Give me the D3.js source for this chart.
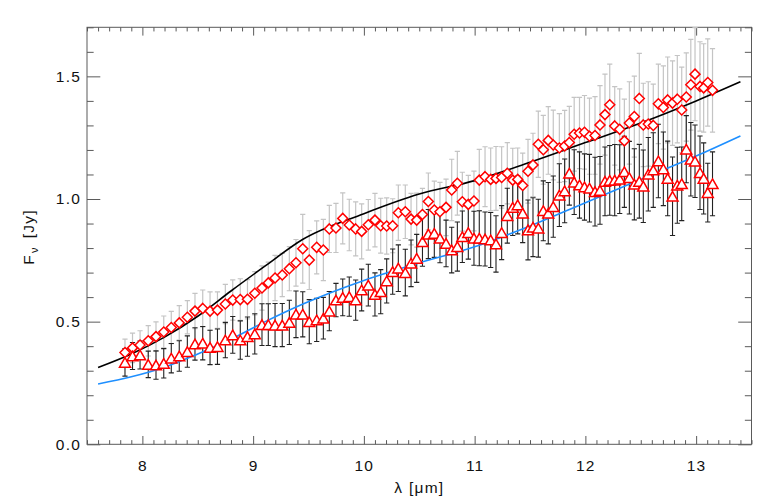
<!DOCTYPE html>
<html>
<head>
<meta charset="utf-8">
<script src="https://cdn.jsdelivr.net/npm/d3@7"></script>
<style>
  body { margin: 0; background: #fff; }
  text { font-family: "Liberation Sans", Arial, sans-serif; letter-spacing: 1.2px; }
</style>
</head>
<body>
<script>
// wavelength grid (micron), shared by both spectra
var wavelength = [
  7.843, 7.911, 7.979, 8.053, 8.123, 8.193, 8.261, 8.333, 8.406, 8.475,
  8.545, 8.611, 8.678, 8.749, 8.816, 8.884, 8.949, 9.015, 9.080, 9.137,
  9.198, 9.263, 9.327, 9.387, 9.448, 9.507, 9.574, 9.634, 9.688, 9.748,
  9.809, 9.868, 9.926, 9.980, 10.040, 10.100, 10.152, 10.206, 10.260, 10.311,
  10.374, 10.426, 10.477, 10.529, 10.582, 10.636, 10.687, 10.742, 10.793, 10.844,
  10.889, 10.943, 10.994, 11.042, 11.094, 11.145, 11.193, 11.244, 11.295, 11.344,
  11.389, 11.434, 11.482, 11.527, 11.575, 11.620, 11.665, 11.710, 11.765, 11.813,
  11.855, 11.899, 11.947, 11.992, 12.037, 12.087, 12.132, 12.177, 12.220, 12.265,
  12.310, 12.352, 12.397, 12.442, 12.487, 12.523, 12.568, 12.613, 12.659, 12.704,
  12.743, 12.787, 12.830, 12.870, 12.911, 12.952, 12.990, 13.035, 13.068, 13.105, 13.148
];

// diamonds (upper spectrum) and their errors, Jy
var fluxDiamond = [
  0.374, 0.393, 0.405, 0.422, 0.439, 0.458, 0.476, 0.495, 0.518, 0.543,
  0.554, 0.543, 0.547, 0.572, 0.588, 0.590, 0.591, 0.616, 0.637, 0.658,
  0.678, 0.690, 0.716, 0.740, 0.797, 0.751, 0.803, 0.792, 0.878, 0.882,
  0.921, 0.894, 0.878, 0.868, 0.895, 0.914, 0.891, 0.890, 0.891, 0.944,
  0.948, 0.918, 0.914, 0.937, 0.990, 0.955, 0.948, 0.966, 1.037, 1.064,
  0.989, 0.978, 0.992, 1.077, 1.091, 1.080, 1.084, 1.088, 1.105, 1.077,
  1.080, 1.055, 1.113, 1.139, 1.223, 1.201, 1.239, 1.220, 1.208, 1.216,
  1.230, 1.264, 1.269, 1.272, 1.256, 1.259, 1.302, 1.344, 1.384, 1.298,
  1.284, 1.237, 1.310, 1.336, 1.410, 1.302, 1.306, 1.300, 1.388, 1.373,
  1.404, 1.391, 1.407, 1.363, 1.416, 1.466, 1.509, 1.459, 1.453, 1.475, 1.443
];
var errDiamond = [
  0.055, 0.060, 0.058, 0.062, 0.060, 0.065, 0.066, 0.070, 0.068, 0.072,
  0.075, 0.078, 0.074, 0.080, 0.082, 0.085, 0.080, 0.088, 0.090, 0.085,
  0.092, 0.088, 0.090, 0.095, 0.140, 0.120, 0.108, 0.125, 0.096, 0.100,
  0.104, 0.105, 0.110, 0.112, 0.103, 0.109, 0.112, 0.115, 0.110, 0.113,
  0.109, 0.105, 0.110, 0.106, 0.116, 0.118, 0.120, 0.115, 0.125, 0.130,
  0.120, 0.118, 0.122, 0.125, 0.122, 0.128, 0.130, 0.125, 0.125, 0.130,
  0.128, 0.132, 0.130, 0.129, 0.135, 0.140, 0.138, 0.142, 0.140, 0.145,
  0.148, 0.150, 0.145, 0.150, 0.155, 0.158, 0.160, 0.165, 0.166, 0.160,
  0.165, 0.170, 0.168, 0.165, 0.184, 0.170, 0.172, 0.168, 0.162, 0.170,
  0.175, 0.172, 0.178, 0.175, 0.180, 0.185, 0.190, 0.182, 0.180, 0.178, 0.170
];

// triangles (lower spectrum) and their errors, Jy
var fluxTriangle = [
  0.334, 0.360, 0.364, 0.326, 0.323, 0.330, 0.351, 0.360, 0.378, 0.409,
  0.412, 0.395, 0.398, 0.425, 0.446, 0.425, 0.439, 0.450, 0.488, 0.488,
  0.486, 0.486, 0.497, 0.530, 0.530, 0.500, 0.507, 0.514, 0.543, 0.588,
  0.599, 0.602, 0.588, 0.629, 0.649, 0.611, 0.622, 0.666, 0.704, 0.718,
  0.700, 0.738, 0.758, 0.826, 0.857, 0.860, 0.840, 0.819, 0.792, 0.806,
  0.846, 0.863, 0.840, 0.840, 0.837, 0.833, 0.817, 0.863, 0.932, 0.966,
  0.976, 0.942, 0.874, 0.885, 0.881, 0.952, 0.942, 0.969, 1.016, 1.033,
  1.105, 1.069, 1.057, 1.049, 1.044, 1.030, 1.035, 1.072, 1.076, 1.077,
  1.081, 1.111, 1.087, 1.060, 1.072, 1.052, 1.101, 1.118, 1.155, 1.123,
  1.084, 1.011, 1.056, 1.062, 1.203, 1.162, 1.154, 1.107, 1.084, 1.026, 1.062
];
var errTriangle = [
  0.056, 0.055, 0.057, 0.054, 0.058, 0.060, 0.060, 0.062, 0.064, 0.066,
  0.068, 0.070, 0.072, 0.072, 0.075, 0.078, 0.080, 0.082, 0.085, 0.085,
  0.088, 0.088, 0.090, 0.095, 0.092, 0.090, 0.088, 0.085, 0.080, 0.068,
  0.075, 0.080, 0.082, 0.085, 0.085, 0.088, 0.090, 0.090, 0.092, 0.095,
  0.095, 0.095, 0.098, 0.100, 0.100, 0.098, 0.100, 0.095, 0.093, 0.100,
  0.105, 0.108, 0.110, 0.112, 0.110, 0.112, 0.115, 0.110, 0.112, 0.115,
  0.118, 0.120, 0.122, 0.120, 0.118, 0.122, 0.125, 0.125, 0.128, 0.130,
  0.130, 0.132, 0.135, 0.135, 0.138, 0.140, 0.138, 0.140, 0.142, 0.145,
  0.140, 0.145, 0.148, 0.145, 0.150, 0.148, 0.150, 0.152, 0.150, 0.150,
  0.152, 0.160, 0.155, 0.150, 0.137, 0.150, 0.148, 0.150, 0.145, 0.120, 0.130
];

// model curves
var modelWave  = [7.6, 7.9, 8.2, 8.5, 8.8, 9.1, 9.45, 10.0, 10.5, 11.0, 11.5, 12.0, 12.5, 13.0, 13.4];
var modelBlack = [0.313, 0.368, 0.437, 0.522, 0.625, 0.724, 0.836, 0.940, 1.020, 1.075, 1.150, 1.230, 1.310, 1.400, 1.478];
var modelBlue  = [0.246, 0.275, 0.314, 0.368, 0.428, 0.498, 0.572, 0.668, 0.740, 0.805, 0.890, 0.985, 1.080, 1.175, 1.257];

// tick labels
var xTicks = [8, 9, 10, 11, 12, 13];
var yTicks = [0.0, 0.5, 1.0, 1.5];

var width = 778, height = 500;
var pL = 87, pR = 751.5, pT = 27.3, pB = 444.3; // plot frame

var svg = d3.select("body").append("svg")
    .attr("width", width)
    .attr("height", height)
    .style("background", "#fff");

var x = d3.scaleLinear().domain([7.5, 13.5]).range([pL, pR]);
var y = d3.scaleLinear().domain([0, 1.7]).range([pB, pT]);

var axisColor = "#5a5a5a";
var xLen = 8.3, yLen = 13.3; // IDL style inward ticks

var xMinor = d3.range(75, 136).map(function(d) { return d / 10; }).filter(function(d) { return Math.abs(d - Math.round(d)) > 1e-6; });
var yMinor = d3.range(0, 18).map(function(d) { return d / 10; }).filter(function(d) { return Math.abs(d * 2 - Math.round(d * 2)) > 1e-6; });

function styleAxis(g) {
  g.select(".domain").remove();
  g.selectAll(".tick line").attr("stroke", axisColor);
  g.selectAll(".tick text").attr("fill", "#111").style("font-size", "15.5px");
}

// bottom
svg.append("g").attr("transform", "translate(0," + pB + ")")
  .call(d3.axisBottom(x).tickValues(xTicks).tickSize(-xLen).tickPadding(16).tickFormat(d3.format("d")))
  .call(styleAxis);
svg.append("g").attr("transform", "translate(0," + pB + ")")
  .call(d3.axisBottom(x).tickValues(xMinor).tickSize(-xLen / 2).tickFormat(""))
  .call(styleAxis);
// top
svg.append("g").attr("transform", "translate(0," + pT + ")")
  .call(d3.axisTop(x).tickValues(xTicks).tickSize(-xLen).tickFormat(""))
  .call(styleAxis);
svg.append("g").attr("transform", "translate(0," + pT + ")")
  .call(d3.axisTop(x).tickValues(xMinor).tickSize(-xLen / 2).tickFormat(""))
  .call(styleAxis);
// left
svg.append("g").attr("transform", "translate(" + pL + ",0)")
  .call(d3.axisLeft(y).tickValues(yTicks).tickSize(-yLen).tickPadding(6).tickFormat(d3.format(".1f")))
  .call(styleAxis);
svg.append("g").attr("transform", "translate(" + pL + ",0)")
  .call(d3.axisLeft(y).tickValues(yMinor).tickSize(-yLen / 2).tickFormat(""))
  .call(styleAxis);
// right
svg.append("g").attr("transform", "translate(" + pR + ",0)")
  .call(d3.axisRight(y).tickValues(yTicks).tickSize(-yLen).tickFormat(""))
  .call(styleAxis);
svg.append("g").attr("transform", "translate(" + pR + ",0)")
  .call(d3.axisRight(y).tickValues(yMinor).tickSize(-yLen / 2).tickFormat(""))
  .call(styleAxis);

svg.append("rect")
  .attr("x", pL).attr("y", pT)
  .attr("width", pR - pL).attr("height", pB - pT)
  .attr("fill", "none").attr("stroke", axisColor);

// axis titles
var xt = svg.append("text")
  .attr("x", (pL + pR) / 2).attr("y", 493)
  .attr("text-anchor", "middle").attr("fill", "#111").style("font-size", "15.5px");
xt.append("tspan").text("λ");
xt.append("tspan").attr("dx", 6).text("[μm]");

var yt = svg.append("text")
  .attr("transform", "translate(34,237) rotate(-90)")
  .attr("text-anchor", "middle").attr("fill", "#111").style("font-size", "15.5px");
yt.append("tspan").text("F");
yt.append("tspan").attr("dy", 4).attr("dx", 1).style("font-size", "11px").text("ν");
yt.append("tspan").attr("dy", -4).attr("dx", 8).text("[Jy]");

var cap = 2.6;
function errPath(i, v, e) {
  var px = x(wavelength[i]), y1 = y(v - e), y2 = y(v + e);
  return "M" + px + "," + y1 + "V" + y2 +
         "M" + (px - cap) + "," + y1 + "H" + (px + cap) +
         "M" + (px - cap) + "," + y2 + "H" + (px + cap);
}

// error bars
svg.append("g").selectAll("path")
  .data(fluxDiamond)
  .enter().append("path")
  .attr("d", function(d, i) { return errPath(i, d, errDiamond[i]); })
  .attr("stroke", "#c4c4c4").attr("stroke-width", 1.2).attr("fill", "none");

svg.append("g").selectAll("path")
  .data(fluxTriangle)
  .enter().append("path")
  .attr("d", function(d, i) { return errPath(i, d, errTriangle[i]); })
  .attr("stroke", "#222").attr("stroke-width", 1.1).attr("fill", "none");

// model lines
var line = d3.line()
  .x(function(d, i) { return x(modelWave[i]); })
  .y(function(d) { return y(d); })
  .curve(d3.curveMonotoneX);

svg.append("path").attr("d", line(modelBlack))
  .attr("fill", "none").attr("stroke", "#000").attr("stroke-width", 1.6);
svg.append("path").attr("d", line(modelBlue))
  .attr("fill", "none").attr("stroke", "#1e8fff").attr("stroke-width", 1.6);

// markers
var ds = 5;
svg.append("g").selectAll("path")
  .data(fluxDiamond)
  .enter().append("path")
  .attr("transform", function(d, i) { return "translate(" + x(wavelength[i]) + "," + y(d) + ")"; })
  .attr("d", "M0," + (-ds) + "L" + ds + ",0L0," + ds + "L" + (-ds) + ",0Z")
  .attr("fill", "#fff").attr("stroke", "#ff0000").attr("stroke-width", 1.5);

var tw = 5.5, th = 4.8;
svg.append("g").selectAll("path")
  .data(fluxTriangle)
  .enter().append("path")
  .attr("transform", function(d, i) { return "translate(" + x(wavelength[i]) + "," + y(d) + ")"; })
  .attr("d", "M0," + (-th) + "L" + tw + "," + th + "L" + (-tw) + "," + th + "Z")
  .attr("fill", "#fff").attr("stroke", "#ff0000").attr("stroke-width", 1.5);
</script>
</body>
</html>
